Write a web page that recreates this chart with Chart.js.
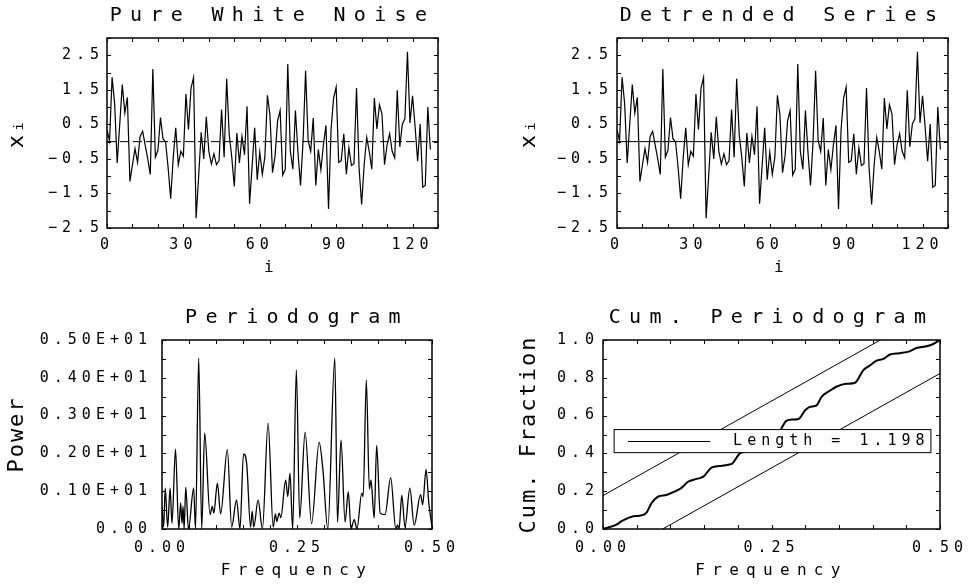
<!DOCTYPE html>
<html>
<head>
<meta charset="utf-8">
<script src="https://cdn.jsdelivr.net/npm/chart.js@4.4.1/dist/chart.umd.min.js"></script>
<style>
  html, body { margin: 0; padding: 0; background: #fff; overflow: hidden; }
  body { width: 971px; height: 586px; position: relative; }
  canvas { position: absolute; }
</style>
</head>
<body>
<canvas id="noise" width="485" height="293" style="left:0;top:0"></canvas>
<canvas id="detrended" width="486" height="293" style="left:485px;top:0"></canvas>
<canvas id="pgram" width="485" height="293" style="left:0;top:293px"></canvas>
<canvas id="cumpgram" width="500" height="293" style="left:485px;top:293px"></canvas>
<script>
// series, i = 0..127
const noise = [
  0.35, 0.02, 1.86, 1.10, -0.62, 0.50, 1.65, 0.83, 1.28, -1.15,
  -0.67, -0.20, -0.60, 0.15, 0.30, -0.10, -0.50, -0.95, 2.10, -0.45,
  -0.25, 0.70, 0.08, 0.00, -0.75, -1.65, -0.47, 0.40, -0.67, -0.28,
  -0.42, 1.38, 0.35, 1.55, 1.86, -2.22, -1.00, 0.27, -0.50, 0.72,
  -0.28, -0.65, -0.35, -0.67, -0.55, 0.93, -0.45, 1.82, 0.20, -0.45,
  -1.30, 0.25, -0.62, 0.15, -0.38, 1.02, -1.80, -0.70, 0.40, -1.10,
  -0.30, -0.95, -0.45, 1.34, 0.78, -0.90, -0.42, 0.60, 0.90, -0.97,
  -0.80, 2.25, -0.28, -0.80, 0.90, -0.30, -1.27, 0.00, 2.05, 0.03,
  -0.28, 0.68, -1.27, -0.23, -0.81, -0.09, 0.47, -1.95, 0.35, 1.26,
  1.58, -0.60, -0.55, 0.23, -0.94, -0.18, -0.69, -0.64, 1.55, -0.76,
  -1.82, -0.67, 0.12, -0.28, -0.80, 1.26, 0.37, 1.07, 0.80, -0.67,
  -0.09, 0.23, -0.28, -0.47, 1.49, -0.15, 0.51, 0.66, 2.60, 0.54,
  1.33, 0.44, -0.57, 0.51, -1.32, -1.27, 1.00, -0.23,
];
// detrending leaves the series unchanged to the eye
const detrended = noise;
const meanLine = [{ x: 0, y: 0 }, { x: 130, y: 0 }];

const freq = [
  0.000, 0.003, 0.006, 0.0105, 0.015, 0.0185, 0.025, 0.031, 0.0346, 0.037,
  0.039, 0.041, 0.044, 0.049, 0.0586, 0.062, 0.068, 0.0735, 0.079, 0.089,
  0.093, 0.096, 0.1025, 0.1086, 0.121, 0.129, 0.138, 0.1444, 0.151, 0.157,
  0.164, 0.167, 0.170, 0.178, 0.186, 0.1965, 0.2059, 0.210, 0.2125, 0.217,
  0.220, 0.229, 0.233, 0.237, 0.242, 0.2488, 0.255, 0.265, 0.277, 0.291,
  0.298, 0.307, 0.320, 0.325, 0.3315, 0.339, 0.345, 0.350, 0.356, 0.361,
  0.370, 0.3725, 0.3784, 0.384, 0.387, 0.393, 0.3975, 0.404, 0.413, 0.4235,
  0.433, 0.436, 0.439, 0.444, 0.450, 0.459, 0.467, 0.479, 0.4827, 0.489,
  0.494, 0.500,
];
const power = [
  0.60, 0.05, 1.08, 0.05, 1.08, 0.15, 2.11, 0.00, 0.69, 0.15,
  0.60, 0.00, 1.10, 0.00, 1.08, 0.00, 4.52, 0.00, 2.54, 0.38,
  0.60, 0.42, 1.21, 0.40, 2.10, 0.05, 0.77, 0.00, 1.99, 1.70,
  0.05, 0.47, 0.05, 0.77, 0.00, 2.80, 0.05, 0.40, 0.20, 0.42,
  0.30, 1.29, 0.86, 1.48, 0.00, 4.21, 0.29, 2.56, 0.14, 2.29,
  1.57, 0.00, 4.52, 0.18, 2.36, 0.18, 0.98, 0.00, 0.25, 0.00,
  0.95, 0.86, 3.94, 1.06, 1.29, 0.29, 2.21, 0.42, 0.38, 1.36,
  0.00, 0.10, 0.00, 0.89, 0.05, 1.08, 0.10, 0.91, 0.64, 1.58,
  0.70, 0.05,
];

const cumFreq = [
  0.000, 0.005, 0.020, 0.027, 0.032, 0.045, 0.054, 0.064, 0.072, 0.082,
  0.094, 0.106, 0.116, 0.126, 0.139, 0.149, 0.161, 0.173, 0.186, 0.192,
  0.203, 0.213, 0.240, 0.255, 0.262, 0.272, 0.282, 0.290, 0.300, 0.307,
  0.317, 0.324, 0.337, 0.347, 0.361, 0.374, 0.386, 0.396, 0.406, 0.416,
  0.426, 0.440, 0.455, 0.465, 0.480, 0.490, 0.500,
];
const cumFraction = [
  0.000, 0.005, 0.023, 0.040, 0.050, 0.067, 0.070, 0.084, 0.137, 0.172,
  0.180, 0.198, 0.216, 0.250, 0.265, 0.277, 0.325, 0.333, 0.340, 0.347,
  0.400, 0.410, 0.455, 0.480, 0.514, 0.572, 0.579, 0.582, 0.628, 0.646,
  0.654, 0.698, 0.733, 0.754, 0.768, 0.774, 0.839, 0.865, 0.891, 0.900,
  0.923, 0.930, 0.940, 0.958, 0.967, 0.979, 1.000,
];
const upperBand = [{ x: 0, y: 0.177 }, { x: 0.4115, y: 1 }];
const lowerBand = [{ x: 0.0885, y: 0 }, { x: 0.5, y: 0.823 }];
const lengthLabel = "Length = 1.198";

const FONT = "'DejaVu Sans Mono', monospace";
// wide letter spacing like the original plot, by font size
const SPACING = { 15: 5.0, 16: 7.3, 20: 8.3, 22: 2 };

const letterSpacing = {
  id: "letterSpacing",
  beforeInit(chart) {
    const desc = Object.getOwnPropertyDescriptor(CanvasRenderingContext2D.prototype, "font");
    Object.defineProperty(chart.ctx, "font", {
      get() { return desc.get.call(this); },
      set(v) {
        desc.set.call(this, v);
        const m = /(\d+)px/.exec(v);
        this.letterSpacing = ((m && SPACING[m[1]]) || 0) + "px";
      },
    });
  },
};

// box round the plot with inward tick marks on all four sides
const frame = {
  id: "frame",
  afterDatasetsDraw(chart) {
    const { ctx, chartArea: a, scales: { x, y } } = chart;
    ctx.save();
    ctx.strokeStyle = "#000";
    ctx.lineWidth = 1;
    ctx.beginPath();
    x.ticks.forEach((t) => {
      const px = Math.round(x.getPixelForValue(t.value)) + 0.5;
      ctx.moveTo(px, a.bottom); ctx.lineTo(px, a.bottom - 4);
      ctx.moveTo(px, a.top); ctx.lineTo(px, a.top + 4);
    });
    y.ticks.forEach((t) => {
      const py = Math.round(y.getPixelForValue(t.value)) + 0.5;
      ctx.moveTo(a.left, py); ctx.lineTo(a.left + 4, py);
      ctx.moveTo(a.right, py); ctx.lineTo(a.right - 4, py);
    });
    ctx.stroke();
    ctx.lineWidth = 1.5;
    ctx.strokeRect(a.left, a.top, a.width, a.height);
    ctx.restore();
  },
};

const lengthBox = {
  id: "lengthBox",
  afterDatasetsDraw(chart) {
    const { ctx, scales: { x, y } } = chart;
    const l = x.getPixelForValue(0.0165), r = x.getPixelForValue(0.4865);
    const t = y.getPixelForValue(0.526), b = y.getPixelForValue(0.404);
    const mid = Math.round((t + b) / 2) + 0.5;
    ctx.save();
    ctx.fillStyle = "#fff";
    ctx.fillRect(l, t, r - l, b - t);
    ctx.strokeStyle = "#000";
    ctx.lineWidth = 1;
    ctx.strokeRect(l, t, r - l, b - t);
    ctx.beginPath();
    ctx.moveTo(l + 14, mid);
    ctx.lineTo(l + 96, mid);
    ctx.stroke();
    ctx.font = "15px " + FONT;
    ctx.fillStyle = "#000";
    ctx.textAlign = "left";
    ctx.textBaseline = "middle";
    ctx.fillText(lengthLabel, l + 119, mid);
    ctx.restore();
  },
};

function axis(o) {
  return {
    type: "linear",
    min: o.min,
    max: o.max,
    grid: { display: false, drawTicks: false },
    border: { display: false },
    ticks: {
      stepSize: o.step,
      autoSkip: false,
      maxRotation: 0,
      padding: o.pad,
      color: "#000",
      font: { family: FONT, size: 15 },
      callback: o.label,
    },
    title: {
      display: true,
      text: o.title,
      color: "#000",
      font: { family: FONT, size: o.titleSize },
      padding: o.titlePad,
    },
    afterFit: (s) => {
      if (o.width) s.width = o.width;
      if (o.height) s.height = o.height;
    },
  };
}

const minus = (s) => s.replace("-", "\u2212");
const seriesY = (v) => (Math.abs(Math.round(v * 2)) % 2 === 1 ? minus(v.toFixed(1)) : "");
const indexX = (v) => (v % 30 === 0 && v <= 120 ? String(v) : "");
const freqX = (v) => (Math.round(v * 100) % 25 === 0 ? v.toFixed(2) : "");
const powerY = (v) => {
  const k = Math.round(v * 2);
  if (k % 2 !== 0) return "";
  return k === 0 ? "0.00" : "0." + k / 2 + "0E+01";
};
const fractionY = (v) => (Math.round(v * 10) % 2 === 0 ? v.toFixed(1) : "");

function makeChart(id, o) {
  return new Chart(document.getElementById(id), {
    type: "line",
    data: { datasets: o.datasets },
    options: {
      responsive: false,
      animation: false,
      devicePixelRatio: 1,
      layout: { padding: { left: 0, top: 0, bottom: 0, right: o.right } },
      elements: { point: { radius: 0 } },
      plugins: {
        legend: { display: false },
        tooltip: { enabled: false },
        title: {
          display: true,
          fullSize: false,
          text: o.title,
          color: "#000",
          font: { family: FONT, size: 20, weight: "normal" },
          padding: o.titlePad,
        },
      },
      scales: { x: o.x, y: o.y },
    },
    plugins: [letterSpacing, frame].concat(o.extra || []),
  });
}

const line = (data, extra) => Object.assign({ data, borderColor: "#000", borderWidth: 1.2, pointRadius: 0 }, extra);

makeChart("noise", {
  title: "Pure White Noise",
  titlePad: { top: 4, bottom: 10 },
  right: 47,
  datasets: [
    line(noise.map((v, i) => ({ x: i, y: v }))),
    line(meanLine, { borderWidth: 1, borderDash: [9, 4] }),
  ],
  x: axis({ min: 0, max: 130, step: 10, pad: 8, label: indexX, title: "i", titleSize: 16,
    titlePad: { top: 0, bottom: 16 }, height: 65 }),
  y: axis({ min: -2.5, max: 3.0, step: 0.5, pad: 3, label: seriesY, title: "x\u1d62", titleSize: 22,
    titlePad: { top: 4, bottom: 0 }, width: 107 }),
});

makeChart("detrended", {
  title: "Detrended Series",
  titlePad: { top: 4, bottom: 10 },
  right: 23,
  datasets: [
    line(detrended.map((v, i) => ({ x: i, y: v }))),
    line(meanLine, { borderWidth: 1 }),
  ],
  x: axis({ min: 0, max: 130, step: 10, pad: 8, label: indexX, title: "i", titleSize: 16,
    titlePad: { top: 0, bottom: 16 }, height: 65 }),
  y: axis({ min: -2.5, max: 3.0, step: 0.5, pad: 4, label: seriesY, title: "x\u1d62", titleSize: 22,
    titlePad: { top: 31, bottom: 0 }, width: 132 }),
});

makeChart("pgram", {
  title: "Periodogram",
  titlePad: { top: 13, bottom: 10 },
  right: 53,
  datasets: [
    line(freq.map((f, i) => ({ x: f, y: power[i] })), { borderWidth: 1.3, cubicInterpolationMode: "monotone" }),
  ],
  x: axis({ min: 0, max: 0.5, step: 0.05, pad: 10, label: freqX, title: "Frequency", titleSize: 16,
    titlePad: { top: 0, bottom: 6 }, height: 57 }),
  y: axis({ min: 0, max: 5, step: 0.5, pad: 10, label: powerY, title: "Power", titleSize: 22,
    titlePad: { top: 4, bottom: 0 }, width: 162 }),
});

makeChart("cumpgram", {
  title: "Cum. Periodogram",
  titlePad: { top: 13, bottom: 10 },
  right: 45,
  datasets: [
    line(cumFreq.map((f, i) => ({ x: f, y: cumFraction[i] })), { borderWidth: 2, cubicInterpolationMode: "monotone" }),
    line(upperBand, { borderWidth: 1 }),
    line(lowerBand, { borderWidth: 1 }),
  ],
  x: axis({ min: 0, max: 0.5, step: 0.05, pad: 10, label: freqX, title: "Frequency", titleSize: 16,
    titlePad: { top: 0, bottom: 6 }, height: 57 }),
  y: axis({ min: 0, max: 1, step: 0.1, pad: 4, label: fractionY, title: "Cum. Fraction", titleSize: 22,
    titlePad: { top: 31, bottom: 0 }, width: 118 }),
  extra: [lengthBox],
});
</script>
</body>
</html>
